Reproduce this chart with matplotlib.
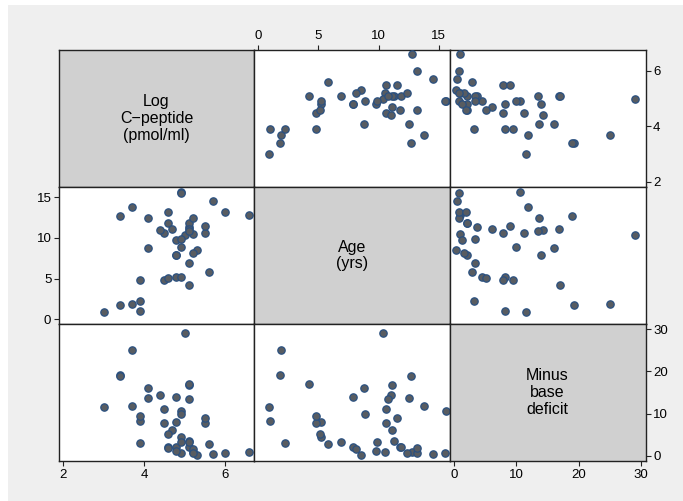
import matplotlib
matplotlib.use('Agg')
import matplotlib.pyplot as plt
from matplotlib.patches import Rectangle

plt.rcParams['font.family'] = ['Liberation Sans', 'DejaVu Sans']

# diabetes data: age, minus base deficit, log C-peptide
age = [5.2, 8.8, 10.5, 10.6, 10.4, 1.8, 12.7, 15.6, 5.8, 1.9, 2.2, 4.8, 7.9, 5.2,
       0.9, 11.8, 7.9, 11.5, 10.6, 8.5, 11.1, 12.8, 11.3, 1.0, 14.5, 11.9, 8.1,
       13.8, 15.5, 9.8, 11.0, 12.4, 11.1, 5.1, 4.8, 4.2, 6.9, 13.2, 9.9, 12.5,
       13.2, 8.9, 10.8]
deficit = [8.1, 16.1, 0.9, 7.8, 29.0, 19.2, 18.9, 10.6, 2.8, 25.0, 3.1, 7.8, 13.9,
           4.5, 11.6, 2.1, 2.0, 9.0, 11.2, 0.2, 6.1, 1.0, 3.6, 8.2, 0.5, 2.0, 1.6,
           11.9, 0.7, 1.2, 14.3, 0.8, 16.8, 5.1, 9.5, 17.0, 3.3, 0.7, 3.3, 13.6,
           1.9, 10.0, 13.5]
cpeptide = [4.8, 4.1, 5.2, 5.5, 5.0, 3.4, 3.4, 4.9, 5.6, 3.7, 3.9, 4.5, 4.8, 4.9,
            3.0, 4.6, 4.8, 5.5, 4.5, 5.3, 4.7, 6.6, 5.1, 3.9, 5.7, 5.1, 5.2, 3.7,
            4.9, 4.8, 4.4, 5.2, 5.1, 4.6, 3.9, 5.1, 5.1, 6.0, 4.9, 4.1, 4.6, 4.9,
            5.1]

names = ['Log\nC\u2212peptide\n(pmol/ml)', 'Age\n(yrs)', 'Minus\nbase\ndeficit']
series = [cpeptide, age, deficit]
limits = [(1.89, 6.72), (-0.36, 15.9), (-0.77, 30.77)]
ylimits = [(1.82, 6.77), (-0.58, 16.27), (-1.2, 31.2)]
ticks = [[2, 4, 6], [0, 5, 10, 15], [0, 10, 20, 30]]

W, H = 683, 501
fig = plt.figure(figsize=(W / 100, H / 100), dpi=100)
fig.patches.append(Rectangle((8 / W, 0), 1, 1 - 5 / H, transform=fig.transFigure,
                             facecolor='#efefef', edgecolor='none', zorder=-10))

xe = [59, 254, 449.5, 645.5]
ye = [49.5, 187, 324, 461]

for r in range(3):
    for c in range(3):
        ax = fig.add_axes([xe[c] / W, 1 - ye[r + 1] / H,
                           (xe[c + 1] - xe[c]) / W, (ye[r + 1] - ye[r]) / H])
        for s in ax.spines.values():
            s.set_linewidth(1.0)
            s.set_color('#222222')
        ax.set_xlim(limits[c])
        ax.set_ylim(ylimits[r])
        if r == c:
            ax.set_facecolor('#d0d0d0')
            ax.text(0.5, 0.5, names[r], ha='center', va='center',
                    transform=ax.transAxes, fontsize=11.5, linespacing=1.15)
        else:
            ax.set_facecolor('white')
            ax.scatter(series[c], series[r], s=28, facecolor='#585c61',
                       edgecolor='#2a5080', linewidth=0.9, zorder=3, clip_on=False)
        ax.tick_params(axis='both', length=3.5, width=0.8, labelsize=9.5,
                       pad=2, colors='#222222', labelcolor='black')
        # x axis: col 0 and 2 on bottom row, col 1 on top row
        if r == 2 and c in (0, 2):
            ax.set_xticks(ticks[c])
            ax.xaxis.set_ticks_position('bottom')
        elif r == 0 and c == 1:
            ax.set_xticks(ticks[c])
            ax.xaxis.set_ticks_position('top')
            ax.xaxis.set_label_position('top')
        else:
            ax.set_xticks([])
        # y axis: rows 0 and 2 on right, row 1 on left
        if c == 2 and r in (0, 2):
            ax.set_yticks(ticks[r])
            ax.yaxis.set_ticks_position('right')
        elif c == 0 and r == 1:
            ax.set_yticks(ticks[r])
            ax.yaxis.set_ticks_position('left')
        else:
            ax.set_yticks([])

fig.savefig('out.png', dpi=100)
